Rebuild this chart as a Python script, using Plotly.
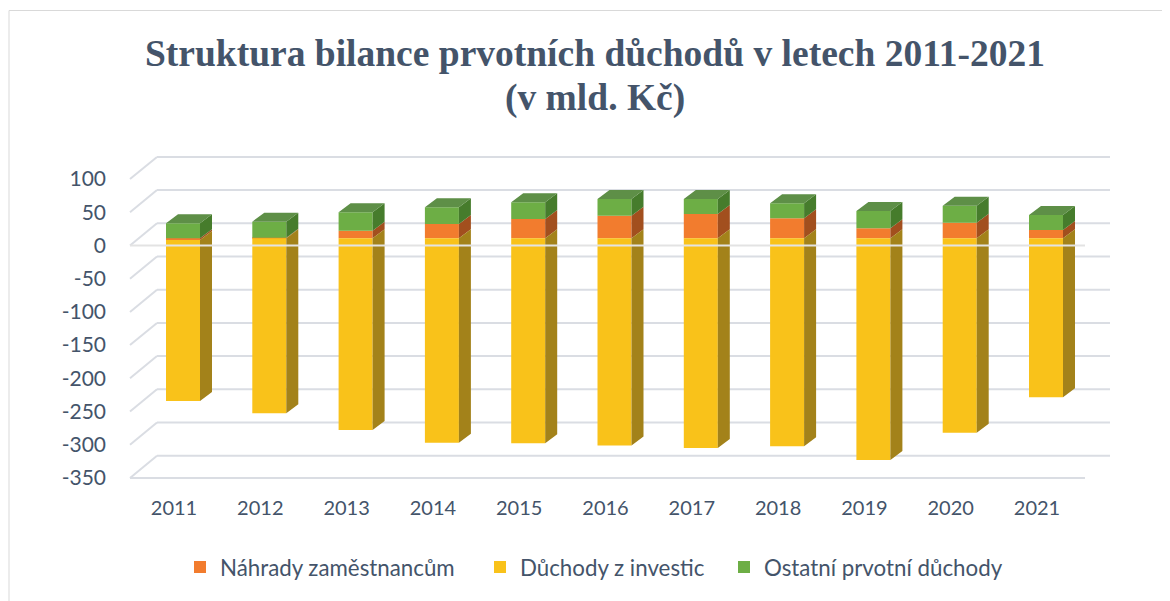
import plotly.graph_objects as go

# ---------------- data (mld. Kč) ----------------
years = ['2011', '2012', '2013', '2014', '2015', '2016', '2017', '2018', '2019', '2020', '2021']
nahrady = [-2.5, 1.0, 11.4, 21.5, 29.1, 34.0, 36.6, 30.1, 15.1, 23.5, 12.5]
investice = [-242.5, -263.6, -288.7, -307.8, -308.7, -312.0, -315.8, -313.0, -334.0, -292.8, -239.5]
ostatni = [22.6, 24.1, 27.7, 25.2, 25.2, 25.2, 22.6, 22.6, 26.1, 25.6, 22.6]
y_ticks = [100, 50, 0, -50, -100, -150, -200, -250, -300, -350]

series_names = ['Náhrady zaměstnancům', 'Důchody z investic', 'Ostatní prvotní důchody']
series_values = [nahrady, investice, ostatni]

# ---------------- styling / geometry (screen pixel coords) ----------------
OFF = 8                      # default body margin of the html page
W, H = 1170 - OFF, 601 - OFF
PL, PR, PT, PB = 125, 1115, 140, 485   # plot area on screen
ML, MR, MT, MB = PL - OFF, (W + OFF) - PR, PT - OFF, (H + OFF) - PB
PW, PH = PR - PL, PB - PT
X0PX, XSTEP = 183.0, 86.3          # screen pixel of first category, px per category
Y0PX, YSCALE = 238.3, 0.664        # screen pixel of value 0 (bar plane), px per unit
BAR_W = 34 / XSTEP

front_col = ['#F27C2E', '#F9C21A', '#6DAE45']
side_col = ['#A24F1E', '#A3821A', '#467C2C']
top_col = '#5E8F47'
grid_col = '#DADDE3'
text_col = '#44546A'
FONT = 'Lato'
legend_left_px = [180, 480, 724]


def xd(px):
    return (px - X0PX) / XSTEP


def yd(py):
    return (Y0PX - py) / YSCALE


def xp(px):
    return (px - PL) / PW


def yp(py):
    return (PB - py) / PH


x_range = [xd(PL), xd(PR)]
y_range = [yd(PB), yd(PT)]

# depth offsets (data units)
DX, DY = 12 / XSTEP, 9 / YSCALE            # bar depth
BACK_DV = (Y0PX - 223.3) / YSCALE           # back wall vs bar plane
FRONT_DV = (Y0PX - 245.5) / YSCALE          # front plane vs bar plane
FRONT_L, BACK_L = xd(130), xd(157)
FRONT_R, BACK_R = xd(1085), xd(1110)

xs = list(range(len(years)))
legend_ids = ['legend', 'legend2', 'legend3']

fig = go.Figure()

# front faces (bars)
for name, vals, col, lg in zip(series_names, series_values, front_col, legend_ids):
    fig.add_trace(go.Bar(
        x=xs, y=vals, name=name, width=BAR_W, legend=lg,
        marker=dict(color=col, line=dict(width=0)),
        hoverinfo='y+name'))

# relative stacking segments
pos = [0.0] * len(xs)
neg = [0.0] * len(xs)
segments = []
for vals in series_values:
    segs = []
    for i, v in enumerate(vals):
        if v >= 0:
            segs.append((pos[i], pos[i] + v))
            pos[i] += v
        else:
            segs.append((neg[i] + v, neg[i]))
            neg[i] += v
    segments.append(segs)

# side faces
for segs, col in zip(segments, side_col):
    px_, py_ = [], []
    for i, (a, b) in enumerate(segs):
        xr = xs[i] + BAR_W / 2
        px_ += [xr, xr, xr + DX, xr + DX, xr, None]
        py_ += [a, b, b + DY, a + DY, a, None]
    fig.add_trace(go.Scatter(x=px_, y=py_, mode='lines', fill='toself',
                             fillcolor=col, line=dict(width=0, color=col),
                             hoverinfo='skip', showlegend=False))

# top faces
tx, ty = [], []
for i in xs:
    xl, xr = xs[i] - BAR_W / 2, xs[i] + BAR_W / 2
    t = pos[i]
    tx += [xl, xr, xr + DX, xl + DX, xl, None]
    ty += [t, t, t + DY, t + DY, t, None]
fig.add_trace(go.Scatter(x=tx, y=ty, mode='lines', fill='toself',
                         fillcolor=top_col, line=dict(width=0, color=top_col),
                         hoverinfo='skip', showlegend=False))

# gridlines (back wall + left wall)
shapes = []
for v in y_ticks:
    shapes.append(dict(type='line', xref='x', yref='y', layer='below',
                       x0=BACK_L, x1=BACK_R, y0=v + BACK_DV, y1=v + BACK_DV,
                       line=dict(color=grid_col, width=2)))
    shapes.append(dict(type='line', xref='x', yref='y', layer='below',
                       x0=FRONT_L, x1=BACK_L, y0=v + FRONT_DV, y1=v + BACK_DV,
                       line=dict(color=grid_col, width=2)))
# floor front edge
shapes.append(dict(type='line', xref='x', yref='y', layer='below',
                   x0=FRONT_L, x1=FRONT_R, y0=y_ticks[-1] + FRONT_DV, y1=y_ticks[-1] + FRONT_DV,
                   line=dict(color=grid_col, width=2)))
# category axis line at zero (front)
shapes.append(dict(type='line', xref='x', yref='y', layer='above',
                   x0=FRONT_L, x1=FRONT_R, y0=FRONT_DV, y1=FRONT_DV,
                   line=dict(color='#E3E3E3', width=2)))
# chart border
shapes.append(dict(type='rect', xref='paper', yref='paper', layer='below',
                   x0=xp(9), x1=xp(1180), y0=yp(10.5), y1=yp(610),
                   line=dict(color='#D9D9D9', width=1)))

title_font = dict(family='Liberation Serif', size=37.5, color=text_col, weight='bold')
annotations = [
    dict(text='Struktura bilance prvotních důchodů v letech 2011-2021',
         xref='paper', yref='paper', x=xp(595), y=yp(54), xanchor='center', yanchor='middle',
         showarrow=False, font=title_font),
    dict(text='(v mld. Kč)',
         xref='paper', yref='paper', x=xp(595), y=yp(98), xanchor='center', yanchor='middle',
         showarrow=False, font=title_font),
]

legend_style = dict(orientation='h', yanchor='middle', xanchor='left', y=yp(567),
                    font=dict(family=FONT, size=22.3, color=text_col),
                    bgcolor='rgba(0,0,0,0)', borderwidth=0)

fig.update_layout(
    width=W, height=H,
    margin=dict(l=ML, r=MR, t=MT, b=MB),
    paper_bgcolor='white', plot_bgcolor='white',
    barmode='relative',
    shapes=shapes, annotations=annotations,
    font=dict(family=FONT, color=text_col, size=19),
    showlegend=True,
    legend=dict(legend_style, x=xp(legend_left_px[0])),
    legend2=dict(legend_style, x=xp(legend_left_px[1])),
    legend3=dict(legend_style, x=xp(legend_left_px[2])),
    xaxis=dict(range=x_range, tickvals=xs, ticktext=years, showgrid=False, zeroline=False,
               showline=False, ticks='', ticklabelshift=-9, ticklabelstandoff=9,
               tickfont=dict(family=FONT, size=20, color=text_col), fixedrange=True),
    yaxis=dict(range=y_range, tickvals=[v + FRONT_DV for v in y_ticks],
               ticktext=[str(v) for v in y_ticks], showgrid=False, zeroline=False,
               showline=False, ticks='', ticklabelstandoff=18,
               tickfont=dict(family=FONT, size=21, color=text_col), fixedrange=True),
)

fig.write_html('out.html')
